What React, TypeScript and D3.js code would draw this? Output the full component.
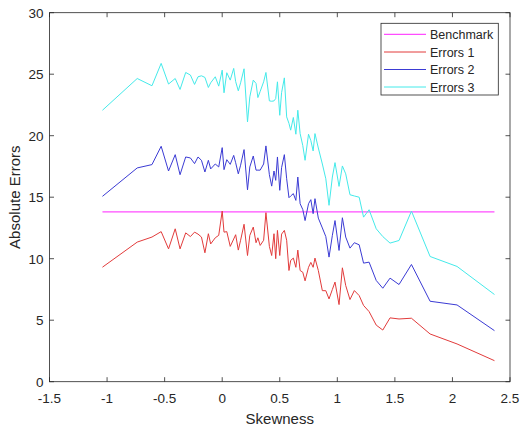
import React from "react";
import * as d3 from "d3";

const skewness = [-1.04, -0.738, -0.61, -0.53, -0.466, -0.408, -0.366, -0.317, -0.276, -0.24, -0.21, -0.18, -0.15, -0.12, -0.1, -0.06, -0.03, 0.0, 0.016, 0.04, 0.07, 0.1, 0.117, 0.14, 0.16, 0.19, 0.22, 0.24, 0.27, 0.294, 0.31, 0.33, 0.36, 0.38, 0.41, 0.43, 0.45, 0.465, 0.48, 0.5, 0.516, 0.54, 0.56, 0.58, 0.595, 0.618, 0.64, 0.657, 0.677, 0.7, 0.72, 0.75, 0.77, 0.79, 0.806, 0.835, 0.87, 0.9, 0.928, 0.957, 0.98, 1.015, 1.044, 1.073, 1.11, 1.148, 1.19, 1.228, 1.276, 1.338, 1.395, 1.458, 1.536, 1.644, 1.806, 2.04, 2.365];

const errors1 = [9.31, 11.35, 11.76, 12.2, 10.8, 12.43, 10.8, 12.1, 11.8, 12.16, 12.0, 11.76, 10.48, 12.03, 11.2, 11.7, 11.9, 13.87, 12.16, 12.2, 11.0, 11.6, 11.95, 10.7, 11.5, 12.8, 10.26, 11.9, 12.57, 11.3, 11.7, 11.08, 11.5, 13.74, 11.0, 10.26, 12.03, 10.0, 12.3, 10.26, 12.0, 12.3, 11.5, 9.04, 9.86, 10.05, 9.3, 10.7, 9.04, 8.9, 8.2, 9.3, 9.7, 9.3, 10.05, 9.04, 7.4, 7.4, 6.73, 7.5, 8.1, 6.27, 9.26, 7.82, 6.68, 7.41, 7.0, 6.2, 5.7, 4.6, 4.2, 5.19, 5.1, 5.16, 3.88, 3.07, 1.71];

const errors2 = [15.07, 17.38, 17.65, 19.14, 17.13, 18.46, 16.83, 18.27, 18.19, 17.73, 18.27, 18.0, 17.05, 18.0, 17.3, 17.7, 17.46, 19.03, 17.24, 18.05, 17.67, 18.4, 17.8, 16.9, 17.6, 18.87, 15.6, 17.46, 18.35, 17.2, 17.2, 17.2, 17.7, 19.17, 16.83, 15.9, 17.13, 16.37, 18.27, 15.56, 17.4, 18.46, 16.5, 14.96, 15.1, 15.29, 14.74, 16.64, 14.47, 14.0, 13.1, 14.47, 14.8, 13.66, 14.88, 13.3, 12.5, 11.8, 10.13, 11.9, 13.1, 10.67, 13.33, 11.76, 10.86, 11.3, 11.13, 9.64, 9.72, 8.23, 7.6, 8.42, 7.9, 9.53, 6.54, 6.24, 4.15];

const errors3 = [22.07, 24.65, 24.06, 25.88, 24.2, 24.65, 23.76, 25.14, 24.93, 24.17, 24.79, 24.87, 24.74, 23.92, 24.3, 24.79, 24.03, 25.33, 23.49, 25.12, 24.52, 25.47, 24.4, 23.65, 24.3, 25.44, 21.12, 23.16, 24.52, 24.25, 23.1, 23.6, 24.38, 25.14, 22.83, 22.8, 22.83, 23.02, 24.38, 21.66, 23.5, 24.7, 21.53, 21.0, 20.45, 21.48, 20.12, 22.07, 20.17, 19.2, 18.0, 20.12, 19.6, 18.76, 20.17, 19.0, 17.7, 16.5, 14.34, 16.64, 17.81, 15.88, 17.54, 16.9, 15.2, 15.1, 15.0, 13.38, 13.98, 12.43, 11.8, 11.27, 11.48, 13.87, 10.18, 9.37, 7.09];

const benchmarkValue = 13.8;

const xTicks = [-1.5, -1, -0.5, 0, 0.5, 1, 1.5, 2, 2.5];
const yTicks = [0, 5, 10, 15, 20, 25, 30];

const seriesNames = ["Benchmark", "Errors 1", "Errors 2", "Errors 3"];
const seriesColors = ["#ff4dff", "#e23b3b", "#3b3bd4", "#44eaea"];

export default function App() {
  const W = 532, H = 435;
  const left = 49.5, right = 510, top = 12.7, bottom = 381.7;
  const x = d3.scaleLinear().domain([-1.5, 2.5]).range([left, right]);
  const y = d3.scaleLinear().domain([0, 30]).range([bottom, top]);
  const axisColor = "#262626";
  const font = "'Liberation Sans', Arial, sans-serif";

  const line = d3
    .line<[number, number]>()
    .x((d) => x(d[0]))
    .y((d) => y(d[1]));

  const mk = (vals: number[]) => skewness.map((s, i) => [s, vals[i]] as [number, number]);
  const benchData: [number, number][] = [
    [skewness[0], benchmarkValue],
    [skewness[skewness.length - 1], benchmarkValue],
  ];
  const data = [benchData, mk(errors1), mk(errors2), mk(errors3)];

  const tickLen = 4.5;
  const legX0 = 381, legY0 = 23.3, legW = 117.3, legH = 71.7;
  const legRows = [34.3, 52, 69.5, 87];

  return (
    <svg
      width={W}
      height={H}
      style={{ position: "absolute", left: 0, top: 0, background: "#fff" }}
      fontFamily={font}
    >
      <rect x={0} y={0} width={W} height={H} fill="#fff" />
      {data.map((d, i) => (
        <path
          key={i}
          d={line(d) || ""}
          fill="none"
          stroke={seriesColors[i]}
          strokeWidth={i === 0 ? 1.3 : 1}
          strokeLinejoin="round"
        />
      ))}
      <rect
        x={left}
        y={top}
        width={right - left}
        height={bottom - top}
        fill="none"
        stroke={axisColor}
        strokeWidth={0.8}
      />
      {xTicks.map((t) => (
        <g key={"x" + t}>
          <line x1={x(t)} x2={x(t)} y1={bottom} y2={bottom - tickLen} stroke={axisColor} strokeWidth={0.8} />
          <line x1={x(t)} x2={x(t)} y1={top} y2={top + tickLen} stroke={axisColor} strokeWidth={0.8} />
          <text x={x(t)} y={bottom + 21.5} textAnchor="middle" fontSize={13.5} fill={axisColor}>
            {String(t)}
          </text>
        </g>
      ))}
      {yTicks.map((t) => (
        <g key={"y" + t}>
          <line x1={left} x2={left + tickLen} y1={y(t)} y2={y(t)} stroke={axisColor} strokeWidth={0.8} />
          <line x1={right} x2={right - tickLen} y1={y(t)} y2={y(t)} stroke={axisColor} strokeWidth={0.8} />
          <text x={left - 6} y={y(t) + 5} textAnchor="end" fontSize={13.5} fill={axisColor}>
            {String(t)}
          </text>
        </g>
      ))}
      <text x={(left + right) / 2} y={424} textAnchor="middle" fontSize={15} fill={axisColor}>
        Skewness
      </text>
      <text
        transform={`translate(${20},${(top + bottom) / 2}) rotate(-90)`}
        textAnchor="middle"
        fontSize={15}
        fill={axisColor}
      >
        Absolute Errors
      </text>
      <rect x={legX0} y={legY0} width={legW} height={legH} fill="#fff" stroke={axisColor} strokeWidth={0.8} />
      {seriesNames.map((n, i) => (
        <g key={n}>
          <line x1={384} x2={426} y1={legRows[i]} y2={legRows[i]} stroke={seriesColors[i]} strokeWidth={i === 0 ? 1.3 : 1} />
          <text x={430} y={legRows[i] + 4.5} fontSize={12.5} fill={axisColor}>
            {n}
          </text>
        </g>
      ))}
    </svg>
  );
}
